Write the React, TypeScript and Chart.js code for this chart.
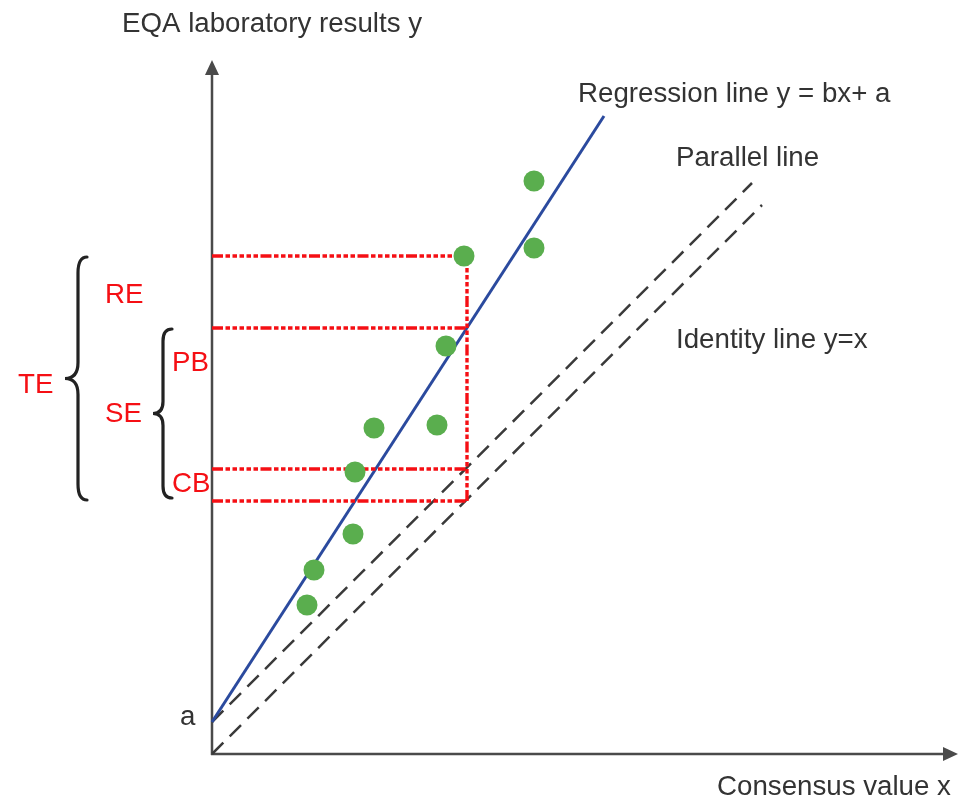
import { useEffect, useRef } from "react";
import { Chart, registerables } from "chart.js";

Chart.register(...registerables);

// ---- data (diagram units: consensus value x, laboratory result y) ----
const pointX = [322, 322, 252, 234, 162, 225, 143, 141, 102, 95];
const pointY = [573, 506, 498, 408, 326, 329, 282, 220, 184, 149];

const regressionX = [0, 392];
const regressionY = [32, 638];
const parallelX = [0, 540];
const parallelY = [32, 571];
const identityX = [0, 550];
const identityY = [0, 549];

const guideX = 255;
// observed point, regression line, parallel line, identity line at guideX
const guideLevels = [498, 426, 285, 253];

const xMax = 746;
const yMax = 694;

const yAxisTitle = "EQA laboratory results y";
const xAxisTitle = "Consensus value x";
const regressionLabel = "Regression line y = bx+ a";
const parallelLabel = "Parallel line";
const identityLabel = "Identity line y=x";
const interceptLabel = "a";
const errorLabels = ["TE", "RE", "SE", "PB", "CB"];

const FONT = '27.7px "Liberation Sans", Arial, Helvetica, sans-serif';
const RED = "#f50f14";
const INK = "#333333";
const AXIS = "#4a4a4a";
const GREEN = "#5aae4e";
const BLUE = "#2b4a9e";
const DASH_GREY = "#3a3a3a";
const redDash = [11, 2.5, 4.5, 2.5, 4.5, 2.5, 4.5, 2.5, 4.5, 2.5, 4.5, 2.5];

function toXY(xs: number[], ys: number[]) {
  return xs.map((x, i) => ({ x, y: ys[i] }));
}

function brace(
  ctx: CanvasRenderingContext2D,
  xEnd: number,
  xv: number,
  xTip: number,
  top: number,
  bottom: number,
  r: number
) {
  const mid = (top + bottom) / 2;
  ctx.beginPath();
  ctx.moveTo(xEnd, top);
  ctx.quadraticCurveTo(xv, top, xv, top + r);
  ctx.lineTo(xv, mid - r);
  ctx.quadraticCurveTo(xv, mid, xTip, mid);
  ctx.quadraticCurveTo(xv, mid, xv, mid + r);
  ctx.lineTo(xv, bottom - r);
  ctx.quadraticCurveTo(xv, bottom, xEnd, bottom);
  ctx.stroke();
}

const decorPlugin = {
  id: "decor",
  beforeDatasetsDraw(chart: any) {
    const { ctx, scales } = chart;
    const sx = scales.x;
    const sy = scales.y;
    const ox = sx.getPixelForValue(0);
    const oy = sy.getPixelForValue(0);
    const top = sy.getPixelForValue(yMax);
    const right = sx.getPixelForValue(xMax);
    ctx.save();
    ctx.strokeStyle = AXIS;
    ctx.fillStyle = AXIS;
    ctx.lineWidth = 2.5;
    ctx.beginPath();
    ctx.moveTo(ox, oy + 1);
    ctx.lineTo(ox, top + 12);
    ctx.stroke();
    ctx.beginPath();
    ctx.moveTo(ox, top);
    ctx.lineTo(ox - 7, top + 15);
    ctx.lineTo(ox + 7, top + 15);
    ctx.closePath();
    ctx.fill();
    ctx.beginPath();
    ctx.moveTo(ox - 1, oy);
    ctx.lineTo(right - 12, oy);
    ctx.stroke();
    ctx.beginPath();
    ctx.moveTo(right, oy);
    ctx.lineTo(right - 15, oy - 7);
    ctx.lineTo(right - 15, oy + 7);
    ctx.closePath();
    ctx.fill();
    ctx.restore();
  },
  afterDraw(chart: any) {
    const { ctx, scales } = chart;
    const sy = scales.y;
    const yPoint = sy.getPixelForValue(guideLevels[0]);
    const yReg = sy.getPixelForValue(guideLevels[1]);
    const yId = sy.getPixelForValue(guideLevels[3]);

    ctx.save();
    ctx.strokeStyle = "#222222";
    ctx.lineWidth = 3.2;
    ctx.lineCap = "round";
    brace(ctx, 87, 78, 65, yPoint + 1, yId - 1, 16);
    brace(ctx, 172, 163, 153, yReg + 1, yId - 3, 12);

    ctx.font = FONT;
    ctx.textAlign = "left";
    ctx.textBaseline = "alphabetic";
    ctx.fillStyle = INK;
    ctx.fillText(yAxisTitle, 122, 32);
    ctx.fillText(regressionLabel, 578, 102);
    ctx.fillText(parallelLabel, 676, 166);
    ctx.fillText(identityLabel, 676, 348);
    ctx.fillText(xAxisTitle, 717, 795);
    ctx.fillText(interceptLabel, 180, 725);

    ctx.fillStyle = RED;
    ctx.fillText(errorLabels[0], 18, 393);
    ctx.fillText(errorLabels[1], 105, 303);
    ctx.fillText(errorLabels[2], 105, 422);
    ctx.fillText(errorLabels[3], 172, 371);
    ctx.fillText(errorLabels[4], 172, 492);
    ctx.restore();
  },
};

export default function App() {
  const ref = useRef<HTMLCanvasElement>(null);

  useEffect(() => {
    const canvas = ref.current;
    if (!canvas) return;

    const lineDs = (data: any[], color: string, width: number, dash: number[]) => ({
      type: "scatter" as const,
      data,
      showLine: true,
      borderColor: color,
      backgroundColor: color,
      borderWidth: width,
      borderDash: dash,
      pointRadius: 0,
      pointHoverRadius: 0,
      clip: false as any,
    });

    const guideHorizontal = guideLevels.map((level) =>
      lineDs(
        [
          { x: 0, y: level },
          { x: guideX, y: level },
        ],
        RED,
        3.4,
        redDash
      )
    );
    const guideVertical = lineDs(
      [
        { x: guideX, y: guideLevels[3] },
        { x: guideX, y: guideLevels[0] },
      ],
      RED,
      3.4,
      redDash
    );

    const chart = new Chart(canvas, {
      type: "scatter",
      data: {
        datasets: [
          {
            data: toXY(pointX, pointY),
            backgroundColor: GREEN,
            borderColor: GREEN,
            borderWidth: 0,
            pointRadius: 10.5,
            pointHoverRadius: 10.5,
            clip: false as any,
          },
          guideVertical,
          ...guideHorizontal,
          lineDs(toXY(regressionX, regressionY), BLUE, 3, []),
          lineDs(toXY(parallelX, parallelY), DASH_GREY, 2.5, [16, 9]),
          lineDs(toXY(identityX, identityY), DASH_GREY, 2.5, [16, 9]),
        ] as any,
      },
      options: {
        animation: false,
        responsive: false,
        maintainAspectRatio: false,
        events: [],
        layout: { autoPadding: false, padding: { left: 212, right: 5, top: 60, bottom: 44 } },
        plugins: {
          legend: { display: false },
          tooltip: { enabled: false },
          title: { display: false },
        },
        scales: {
          x: { type: "linear", min: 0, max: xMax, display: false },
          y: { type: "linear", min: 0, max: yMax, display: false },
        },
      },
      plugins: [decorPlugin],
    });

    return () => chart.destroy();
  }, []);

  return (
    <div
      style={{
        position: "absolute",
        left: 0,
        top: 0,
        width: 963,
        height: 798,
        background: "#ffffff",
      }}
    >
      <canvas ref={ref} width={963} height={798} style={{ width: 963, height: 798, display: "block" }} />
    </div>
  );
}
